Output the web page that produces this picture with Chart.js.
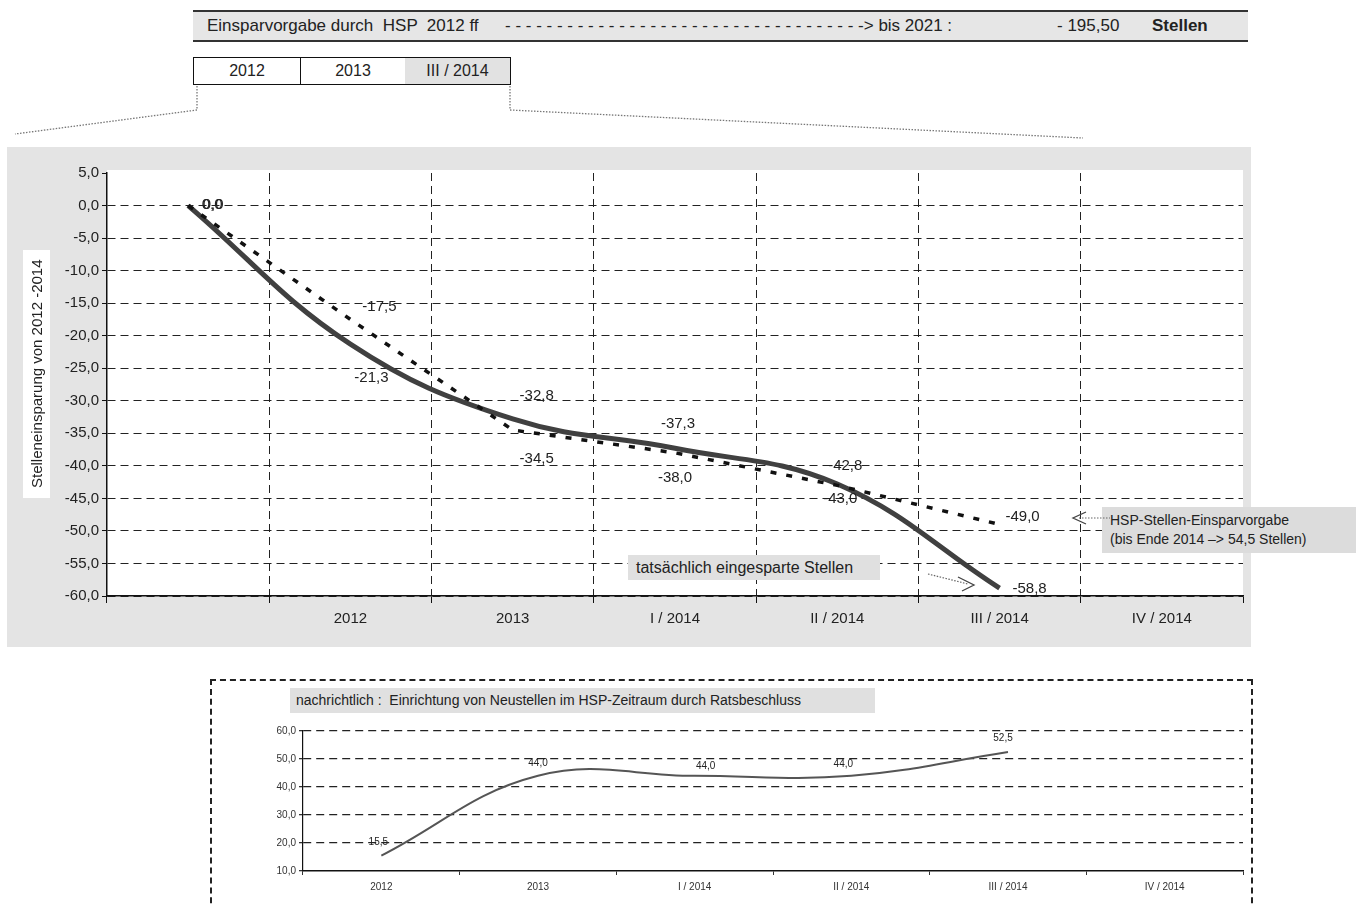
<!DOCTYPE html>
<html lang="de">
<head>
  <meta charset="UTF-8">
  <title>HSP Stelleneinsparung</title>
  <script src="https://cdn.jsdelivr.net/npm/chart.js"></script>
  <style>
    body {
      margin: 0;
      font-family: Arial, "Liberation Sans", sans-serif;
      color: #222;
      background: #fff;
    }
    #page {
      position: relative;
      width: 1364px;
      height: 904px;
      overflow: hidden;
    }
    .abs { position: absolute; white-space: pre; }
    #header {
      left: 193px; top: 10px; width: 1055px; height: 28px;
      background: #e6e6e6;
      border-top: 2px solid #333;
      border-bottom: 2px solid #333;
    }
    #header span { position: absolute; top: 4px; font-size: 17px; white-space: pre; }
    #years {
      left: 193px; top: 57px; height: 26px;
      border: 1px solid #111;
      display: flex;
    }
    #years div { height: 26px; line-height: 26px; text-align: center; font-size: 16px; }
    #mainChart { position: absolute; left: 7px; top: 147px; }
    #newChart { position: absolute; left: 212px; top: 715px; }
    #yTitle {
      left: 23px; top: 250px; width: 27px; height: 248px;
      background: #fff;
      font-size: 15px;
      writing-mode: vertical-rl;
      transform: rotate(180deg);
      text-align: center;
      line-height: 27px;
    }
    .note { background: #e0e0e0; font-size: 16px; }
    #newBox {
      left: 210px; top: 679px; width: 1039px; height: 260px;
      border: 2px dashed #222;
    }
    #overlay { position: absolute; left: 0; top: 0; pointer-events: none; }
  </style>
</head>
<body>
<div id="page">
  <div id="header" class="abs">
    <span style="left:14px">Einsparvorgabe durch  HSP  2012 ff</span>
    <span style="left:312px">- - - - - - - - - - - - - - - - - - - - - - - - - - - - - - - - - - -> bis 2021 :</span>
    <span style="left:864px">- 195,50</span>
    <span style="left:959px; font-weight:bold">Stellen</span>
  </div>
  <div id="years" class="abs">
    <div style="width:106px; border-right:1px solid #111">2012</div>
    <div style="width:104px">2013</div>
    <div style="width:105px; background:#e2e2e2">III / 2014</div>
  </div>

  <svg id="overlay" width="1364" height="904">
    <g stroke="#777" stroke-width="1.3" stroke-dasharray="1.5 1.5" fill="none">
      <polyline points="197,86 197,110 15,134"/>
      <polyline points="510,86 510,110 1083,138"/>
    </g>
  </svg>

  <canvas id="mainChart" width="1244" height="500"></canvas>
  <div id="yTitle" class="abs">Stelleneinsparung von 2012 -2014</div>

  <div class="abs note" style="left:628px; top:555px; width:244px; height:25px; line-height:25px; padding-left:8px">tatsächlich eingesparte Stellen</div>
  <div class="abs note" style="left:1102px; top:507px; width:246px; height:42px; padding:4px 0 0 8px; font-size:14px; line-height:19px; background:#dcdcdc">HSP-Stellen-Einsparvorgabe
(bis Ende 2014 –> 54,5 Stellen)</div>

  <div id="newBox" class="abs"></div>
  <div class="abs note" style="left:290px; top:688px; width:579px; height:25px; line-height:25px; padding-left:6px; font-size:14px">nachrichtlich :  Einrichtung von Neustellen im HSP-Zeitraum durch Ratsbeschluss</div>
  <canvas id="newChart" width="1038" height="187"></canvas>

  <svg class="abs" style="left:0; top:0; pointer-events:none; z-index:5" width="1364" height="904">
    <g stroke="#666" stroke-width="1.2" fill="none">
      <line x1="928" y1="574" x2="968" y2="584" stroke-dasharray="1.5 1.5"/>
      <polyline points="958,577 974,585 962,591" stroke="#444" stroke-width="1.3"/>
      <line x1="1079" y1="518" x2="1110" y2="518" stroke-dasharray="1.5 1.5"/>
      <polyline points="1086,512 1073,518 1086,524" stroke="#444" stroke-width="1.3"/>
    </g>
  </svg>
</div>

<script>
  // Hauptdiagramm: Stelleneinsparung
  const mainLabels = ['', '2012', '2013', 'I / 2014', 'II / 2014', 'III / 2014', 'IV / 2014'];
  const savedActual = [0.0, -21.3, -32.8, -37.3, -42.8, -58.8, null];
  const savedTarget = [0.0, -17.5, -34.5, -38.0, -43.0, -49.0, null];
  const mainYMin = -60;
  const mainYMax = 5;
  const mainYStep = 5;

  // nachrichtlich: Neustellen
  const newLabels = ['2012', '2013', 'I / 2014', 'II / 2014', 'III / 2014', 'IV / 2014'];
  const newPositions = [15.5, 44.0, 44.0, 44.0, 52.5, null];
  const newYMin = 10;
  const newYMax = 60;
  const newYStep = 10;

  // Label-Verschiebung relativ zum Punkt (dx, dy)
  const targetLabelShift = [[25, -1], [29, -13], [24, 29], [0, 25], [3, 13], [23, -8]];
  const actualLabelShift = [[24, -1], [21, 34], [24, -23], [3, -24], [8, -18], [30, 1]];
  const newLabelShift = [[-3, -13], [0, -13], [11, -10], [-8, -12], [-5, -14]];

  const fmt = v => Number(v).toFixed(1).replace('.', ',');

  function labelPlugin(shifts, font) {
    return {
      id: 'pointLabels',
      afterDatasetsDraw(chart) {
        const ctx = chart.ctx;
        ctx.save();
        ctx.font = font;
        ctx.fillStyle = '#222';
        ctx.textAlign = 'center';
        ctx.textBaseline = 'middle';
        chart.data.datasets.forEach((ds, i) => {
          const meta = chart.getDatasetMeta(i);
          meta.data.forEach((pt, j) => {
            const v = ds.data[j];
            const s = shifts[i][j];
            if (v === null || !s) return;
            ctx.fillText(fmt(v), pt.x + s[0], pt.y + s[1]);
          });
        });
        ctx.restore();
      }
    };
  }

  const mainBg = {
    id: 'mainBg',
    beforeDraw(chart) {
      const {ctx, chartArea: a} = chart;
      ctx.save();
      ctx.fillStyle = '#e4e4e4';
      ctx.fillRect(0, 0, chart.width, chart.height);
      ctx.fillStyle = '#fff';
      ctx.fillRect(a.left, a.top - 3, a.right - a.left, a.bottom - a.top + 3);
      ctx.restore();
    }
  };

  new Chart(document.getElementById('mainChart'), {
    type: 'line',
    data: {
      labels: mainLabels,
      datasets: [
        {
          label: 'HSP-Stellen-Einsparvorgabe',
          data: savedTarget,
          borderColor: '#111',
          borderWidth: 3.5,
          borderDash: [6, 10],
          tension: 0,
          pointRadius: 0,
          order: 0
        },
        {
          label: 'tatsächlich eingesparte Stellen',
          data: savedActual,
          borderColor: '#404040',
          borderWidth: 5,
          tension: 0.4,
          pointRadius: 0,
          order: 1
        }
      ]
    },
    options: {
      responsive: false,
      animation: false,
      layout: { padding: { top: 26, right: 8, left: 0, bottom: 0 } },
      plugins: { legend: { display: false }, tooltip: { enabled: false } },
      scales: {
        x: {
          offset: true,
          grid: {
            offset: true,
            // erste Linie liegt auf der y-Achse, letzte (rechter Rand) ohne Gitterlinie
            color: c => (c.type !== 'tick' || c.index === 0) ? 'rgba(0,0,0,0)' : '#222',
            tickColor: '#111',
            tickLength: 7
          },
          border: { color: '#111', width: 1.5, dash: [8, 5] },
          ticks: { font: { family: 'Arial', size: 15 }, color: '#222', padding: 7, maxRotation: 0, autoSkip: false },
          afterFit: s => { s.height = 51; }
        },
        y: {
          min: mainYMin,
          max: mainYMax,
          ticks: {
            stepSize: mainYStep,
            font: { family: 'Arial', size: 15 },
            color: '#222',
            padding: 3,
            callback: v => fmt(v)
          },
          grid: {
            color: c => (c.tick && c.tick.value === mainYMax) ? 'rgba(0,0,0,0)' : '#222',
            tickColor: '#111',
            tickLength: 5
          },
          border: { color: '#111', width: 1.5, dash: [8, 5] },
          afterFit: s => { s.width = 100; }
        }
      }
    },
    plugins: [mainBg, labelPlugin([targetLabelShift, actualLabelShift], '15px Arial')]
  });

  new Chart(document.getElementById('newChart'), {
    type: 'line',
    data: {
      labels: newLabels,
      datasets: [{
        label: 'Neustellen durch Ratsbeschluss',
        data: newPositions,
        borderColor: '#555',
        borderWidth: 2,
        tension: 0.4,
        pointRadius: 0
      }]
    },
    options: {
      responsive: false,
      animation: false,
      layout: { padding: { top: 16, right: 7, left: 0, bottom: 0 } },
      plugins: { legend: { display: false }, tooltip: { enabled: false } },
      scales: {
        x: {
          offset: true,
          grid: { offset: true, drawOnChartArea: false, tickColor: '#333', tickLength: 4 },
          border: { color: '#111', width: 1.5 },
          ticks: { font: { family: 'Arial', size: 10 }, color: '#333', padding: 6, maxRotation: 0, autoSkip: false },
          afterFit: s => { s.height = 31; }
        },
        y: {
          min: newYMin,
          max: newYMax,
          ticks: {
            stepSize: newYStep,
            font: { family: 'Arial', size: 10 },
            color: '#333',
            padding: 3,
            callback: v => fmt(v)
          },
          grid: {
            color: c => (c.tick && c.tick.value === newYMin) ? 'rgba(0,0,0,0)' : '#222',
            tickColor: '#333',
            tickLength: 4,
            lineWidth: 1.3
          },
          border: { color: '#111', width: 1.2, dash: [8, 5] },
          afterFit: s => { s.width = 91; }
        }
      }
    },
    plugins: [labelPlugin([newLabelShift], '10px Arial')]
  });
</script>
</body>
</html>
